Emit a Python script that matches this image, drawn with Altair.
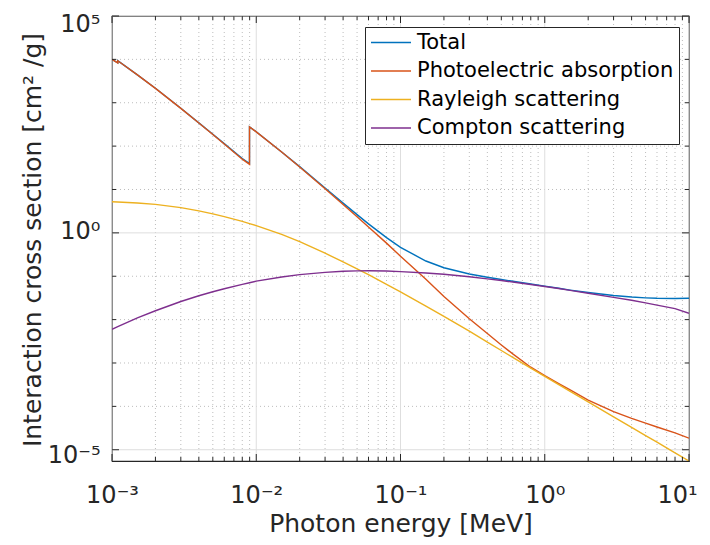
import altair as alt
import pandas as pd

# ---------------- data ----------------
energy = [0.001, 0.0010961, 0.0010961, 0.0015, 0.002, 0.003, 0.004, 0.005, 0.006, 0.008,
          0.008979, 0.008979, 0.01, 0.015, 0.02, 0.03, 0.04, 0.05, 0.06, 0.08,
          0.1, 0.15, 0.2, 0.3, 0.4, 0.5, 0.6, 0.8, 1.0, 1.25,
          1.5, 2.0, 3.0, 4.0, 5.0, 6.0, 8.0, 10.0]

total = [1.0005e4, 8.305e3, 9.305e3, 4.405e3, 2.155e3, 743.8, 343.3, 187.8, 114.4, 51.9,
         39.7, 278.7, 214.5, 73.0, 33.73, 10.86, 4.844, 2.631, 1.6125, 0.777,
         0.4615, 0.2245, 0.1569, 0.1129, 0.0948, 0.0842, 0.0765, 0.0663, 0.0591, 0.0527,
         0.0480, 0.0421, 0.0360, 0.0332, 0.0318, 0.0311, 0.0307, 0.0310]

photo = [1.0e4, 8.3e3, 9.3e3, 4.4e3, 2.15e3, 7.4e2, 3.4e2, 1.85e2, 1.12e2, 5.0e1,
         3.8e1, 2.77e2, 2.13e2, 7.29e1, 3.3e1, 1.04e1, 4.5, 2.35, 1.37, 0.58,
         0.29, 0.085, 0.034, 0.0105, 0.0048, 0.0026, 0.00162, 8.0e-4, 5.1e-4, 3.35e-4,
         2.4e-4, 1.4e-4, 7.6e-5, 5.3e-5, 4.1e-5, 3.35e-5, 2.45e-5, 1.85e-5]

rayleigh = [5.2, 5.15, 5.15, 4.9, 4.55, 3.82, 3.22, 2.75, 2.37, 1.84,
            1.64, 1.64, 1.47, 0.92, 0.625, 0.34, 0.214, 0.148, 0.1085, 0.0652,
            0.0435, 0.0205, 0.0119, 0.0054, 0.00303, 0.00194, 0.00135, 7.6e-4, 4.9e-4, 3.17e-4,
            2.22e-4, 1.27e-4, 5.75e-5, 3.28e-5, 2.12e-5, 1.49e-5, 8.5e-6, 5.5e-6]

compton = [0.0060, 0.0069, 0.0069, 0.0110, 0.0160, 0.0262, 0.0355, 0.0440, 0.0515, 0.0650,
           0.0710, 0.0710, 0.0770, 0.096, 0.109, 0.123, 0.130, 0.133, 0.134, 0.132,
           0.128, 0.119, 0.111, 0.097, 0.087, 0.0797, 0.0735, 0.0647, 0.0581, 0.052,
           0.0473, 0.0406, 0.0326, 0.028, 0.0244, 0.0216, 0.0179, 0.0140]

series_names = ["Total", "Photoelectric absorption", "Rayleigh scattering", "Compton scattering"]
series_colors = ["#0072BD", "#D95319", "#EDB120", "#7E2F8E"]

x_major = [1e-3, 1e-2, 1e-1, 1e0, 1e1]
x_major_exp = [-3, -2, -1, 0, 1]
x_major_labels = ["10⁻³", "10⁻²", "10⁻¹", "10⁰", "10¹"]
x_minor = [m * d for d in [1e-3, 1e-2, 1e-1, 1e0] for m in [2, 3, 4, 5, 6, 7, 8, 9]]

y_major = [1e-5, 1e0, 1e5]
y_major_exp = [-5, 0, 5]
y_major_labels = ["10⁻⁵", "10⁰", "10⁵"]
y_minor = [1e-4, 1e-3, 1e-2, 1e-1, 1e1, 1e2, 1e3, 1e4]

x_title = "Photon energy [MeV]"
y_title = "Interaction cross section [cm² /g]"

# ---------------- long table ----------------
rows = []
for name, vals in zip(series_names, [total, photo, rayleigh, compton]):
    for e, v in zip(energy, vals):
        rows.append({"energy": e, "value": v, "series": name})
df = pd.DataFrame(rows)

W, H = 577, 445
FONT = "DejaVu Sans"
AX = "#262626"

xs = alt.Scale(type="log", domain=[1e-3, 10], nice=False)
ys = alt.Scale(type="log", domain=[min(rayleigh), 1e5], nice=False)


def label_expr(exps, labels):
    expr = "''"
    for e, lab in reversed(list(zip(exps, labels))):
        expr = f"(round(log(datum.value)/LN10) == {e}) ? '{lab}' : ({expr})"
    return expr


x_axis = alt.Axis(values=x_major, labelExpr=label_expr(x_major_exp, x_major_labels),
                  grid=False, ticks=False, tickSize=0, domain=False,
                  labelFont=FONT, labelFontSize=24, labelColor=AX,
                  labelBaseline="alphabetic", labelPadding=41, labelAlign="center",
                  labelOffset={"condition": {"test": "datum.value > 5", "value": -12}, "value": 0},
                  labelFlush=False, labelOverlap=False,
                  title=x_title, titleFont=FONT, titleFontSize=25, titleFontWeight="normal",
                  titleColor=AX, titleBaseline="alphabetic", titleX=W / 2, titleY=70,
                  titleAlign="center")

y_axis = alt.Axis(values=y_major, labelExpr=label_expr(y_major_exp, y_major_labels),
                  grid=False, ticks=False, tickSize=0, domain=False,
                  labelFont=FONT, labelFontSize=24, labelColor=AX,
                  labelBaseline="middle", labelPadding=12, labelFlush=False,
                  labelOffset={"condition": [{"test": "datum.value > 1000", "value": 8},
                                             {"test": "datum.value < 0.001", "value": 6}],
                               "value": -1},
                  labelOverlap=False,
                  title=y_title, titleFont=FONT, titleFontSize=25, titleFontWeight="normal",
                  titleColor=AX, titleBaseline="alphabetic", titleAngle=270,
                  titleX=-72, titleY=H / 2 + 1, titleAlign="center")


def xrule(vals, **kw):
    return alt.Chart(pd.DataFrame({"x": vals})).mark_rule(**kw).encode(
        x=alt.X("x:Q", scale=xs, axis=x_axis))


def yrule(vals, **kw):
    return alt.Chart(pd.DataFrame({"y": vals})).mark_rule(**kw).encode(
        y=alt.Y("y:Q", scale=ys, axis=y_axis))


minor_style = dict(color="#bdbdbd", strokeWidth=1, strokeDash=[1, 3])
major_style = dict(color="#dedede", strokeWidth=1)

grid_x_minor = xrule(x_minor, **minor_style)
grid_y_minor = yrule(y_minor, **minor_style)
grid_x_major = xrule(x_major, **major_style)
grid_y_major = yrule(y_major, **major_style)


def xticks(vals, length):
    d = pd.DataFrame({"x": vals})
    b = alt.Chart(d).mark_rule(color=AX, strokeWidth=1).encode(
        x=alt.X("x:Q", scale=xs, axis=x_axis), y=alt.value(H), y2=alt.value(H - length))
    t = alt.Chart(d).mark_rule(color=AX, strokeWidth=1).encode(
        x=alt.X("x:Q", scale=xs, axis=x_axis), y=alt.value(0), y2=alt.value(length))
    return [b, t]


def yticks(vals, length):
    d = pd.DataFrame({"y": vals})
    l = alt.Chart(d).mark_rule(color=AX, strokeWidth=1).encode(
        y=alt.Y("y:Q", scale=ys, axis=y_axis), x=alt.value(0), x2=alt.value(length))
    r = alt.Chart(d).mark_rule(color=AX, strokeWidth=1).encode(
        y=alt.Y("y:Q", scale=ys, axis=y_axis), x=alt.value(W), x2=alt.value(W - length))
    return [l, r]


legend = alt.Legend(title=None, orient="none", legendX=253, legendY=11,
                    symbolType="stroke", symbolSize=1600, symbolStrokeWidth=1.4,
                    clipHeight=21, rowPadding=6.5, padding=5,
                    labelFont=FONT, labelFontSize=21, labelColor="#000000",
                    labelOffset=5, labelLimit=500,
                    strokeColor=AX, fillColor="white")

base = alt.Chart(df).mark_line(strokeWidth=1.4, clip=True).encode(
    x=alt.X("energy:Q", scale=xs, axis=x_axis),
    y=alt.Y("value:Q", scale=ys, axis=y_axis),
    color=alt.Color("series:N",
                    scale=alt.Scale(domain=series_names, range=series_colors),
                    sort=series_names, legend=legend),
)
line_layers = [base.transform_filter(alt.datum.series == name) for name in series_names]

layers = [grid_x_minor, grid_y_minor, grid_x_major, grid_y_major] + line_layers
layers += xticks(x_minor, 4) + xticks(x_major, 7)
layers += yticks(y_minor, 4) + yticks(y_major, 7)

chart = alt.layer(*layers).properties(
    width=W, height=H,
    autosize="none",
    padding={"left": 104, "top": 8, "right": 13, "bottom": 76},
).configure(font=FONT).configure_view(stroke=AX, strokeWidth=1.2)

chart.save("out.html", embed_options={"renderer": "svg", "actions": False})
